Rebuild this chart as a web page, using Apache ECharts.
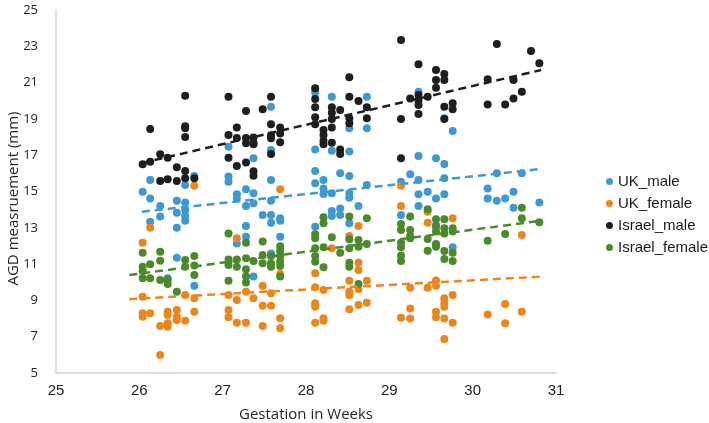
<!DOCTYPE html>
<html>
<head>
<meta charset="utf-8">
<script src="https://cdn.jsdelivr.net/npm/echarts@6/dist/echarts.min.js"></script>
<style>html,body{margin:0;padding:0;background:#fff}#c{width:709px;height:423px}</style>
</head>
<body>
<div id="c"></div>
<script>
const seriesNames = ['UK_male', 'UK_female', 'Israel_male', 'Israel_female'];
const xTicks = [25, 26, 27, 28, 29, 30, 31];
const yTicks = [5, 7, 9, 11, 13, 15, 17, 19, 21, 23, 25];

const ukMale = [
  [26.13,15.63],[26.04,14.99],[26.13,14.62],[26.55,15.36],[26.66,15.85],[26.45,14.49],[26.55,14.4],[26.25,14.2],
  [26.45,13.83],[26.55,13.98],[26.55,13.65],[26.55,13.39],[26.25,13.62],[26.13,13.34],[26.45,13.0],[26.45,11.35],
  [26.66,9.81],[26.34,10.22],
  [27.07,15.82],[27.07,15.54],[27.07,17.47],[27.17,14.85],[27.17,14.62],[27.28,15.12],[27.37,14.9],[27.28,14.2],
  [27.28,13.1],[27.28,12.51],[27.17,12.14],[27.37,10.31],
  [27.58,19.67],[27.37,16.83],[27.58,17.29],[27.58,15.63],[27.37,14.35],[27.58,14.49],[27.48,13.71],[27.58,13.71],
  [27.69,13.53],[27.69,13.39],[27.58,13.28],[27.69,12.51],[27.58,11.59],
  [28.11,20.45],[28.31,20.22],[28.73,20.22],[28.52,18.48],[28.73,18.48],[28.11,17.32],[28.11,16.13],[28.11,15.45],
  [28.21,15.63],[28.21,15.17],[28.21,14.86],[28.31,14.9],[28.41,16.0],[28.52,15.85],[28.52,14.9],[28.52,14.66],
  [28.73,15.36],[28.63,14.2],[28.31,17.25],[28.52,17.2],[28.11,13.06],[28.31,13.93],[28.41,14.07],[28.31,13.65],
  [28.41,13.71],[28.52,13.25],
  [29.35,20.5],[29.66,19.03],[29.76,18.33],[29.35,16.96],[29.56,16.83],[29.66,16.52],[29.25,15.95],[29.35,15.63],
  [29.14,15.54],[29.66,15.73],[29.35,14.85],[29.46,14.99],[29.56,14.62],[29.66,14.85],[29.35,14.2],[29.14,13.71],
  [29.56,13.15],[29.76,11.93],
  [30.18,15.17],[30.18,14.62],[30.29,16.0],[30.29,14.49],[30.39,14.62],[30.49,14.99],[30.49,14.11],[30.59,16.0],
  [30.8,14.4]
];

const ukFemale = [
  [26.66,15.32],[26.13,13.0],[26.04,12.18],[26.04,9.2],[26.55,9.3],[26.66,9.12],[26.04,8.29],[26.04,8.1],
  [26.13,8.29],[26.34,8.38],[26.34,8.2],[26.45,8.47],[26.45,8.1],[26.34,7.74],[26.34,7.55],[26.25,7.59],
  [26.45,7.92],[26.55,7.88],[26.66,8.38],[26.25,5.99],
  [27.17,12.42],[27.07,9.3],[27.17,9.02],[27.28,9.48],[27.37,9.12],[27.07,8.47],[27.07,8.07],[27.17,7.77],
  [27.28,7.77],
  [27.69,15.12],[27.69,11.45],[27.69,10.45],[27.48,9.81],[27.58,9.39],[27.48,8.71],[27.58,8.71],[27.48,7.59],
  [27.69,8.01],[27.69,7.46],
  [28.11,10.49],[28.11,9.72],[28.21,9.57],[28.11,8.84],[28.11,8.65],[28.21,8.01],[28.21,7.88],[28.11,7.77],
  [28.31,11.87],[28.63,13.1],[28.52,12.55],[28.63,11.08],[28.63,10.68],[28.52,10.08],[28.63,9.61],[28.73,10.08],
  [28.52,9.48],[28.52,9.3],[28.52,8.51],[28.63,8.75],[28.73,8.87],
  [29.14,15.32],[29.14,14.2],[29.46,13.89],[29.46,13.28],[29.76,13.53],[29.25,9.7],[29.46,9.7],[29.56,10.09],
  [29.56,9.81],[29.66,9.12],[29.66,8.87],[29.66,8.65],[29.76,9.3],[29.25,8.56],[29.14,8.05],[29.25,8.0],
  [29.56,8.38],[29.56,8.07],[29.66,8.0],[29.76,7.77],[29.66,6.87],
  [30.18,8.23],[30.39,8.8],[30.39,7.74],[30.59,8.38],[30.59,12.6]
];

const israelMale = [
  [26.55,20.28],[26.13,18.44],[26.55,18.6],[26.55,18.48],[26.55,18.0],[26.04,16.5],[26.13,16.64],[26.25,17.05],
  [26.34,16.86],[26.45,16.33],[26.55,16.13],[26.25,15.58],[26.34,15.67],[26.45,15.58],[26.55,15.73],[26.66,15.73],
  [27.07,20.22],[27.28,19.44],[27.07,18.11],[27.17,18.52],[27.17,17.95],[27.28,17.95],[27.37,17.97],[27.28,17.66],
  [27.37,17.69],[27.07,16.86],[27.17,16.4],[27.28,16.6],[27.37,16.12],[27.37,15.87],
  [27.48,19.53],[27.58,20.22],[27.58,18.7],[27.69,18.52],[27.69,18.2],[27.58,18.1],[27.58,17.93],[27.69,17.71],
  [27.58,17.07],[27.37,17.6],
  [28.11,20.69],[28.11,20.1],[28.11,19.64],[28.11,19.09],[28.11,18.7],[28.31,19.64],[28.31,19.34],[28.31,19.0],
  [28.31,18.52],[28.41,19.49],[28.21,18.39],[28.21,18.11],[28.52,21.29],[28.52,20.22],[28.63,19.99],[28.73,19.64],
  [28.73,19.03],[28.52,19.03],[28.52,18.76],[28.21,17.8],[28.21,17.6],[28.31,17.69],[28.41,17.32],[28.41,17.07],
  [29.14,23.35],[29.35,22.01],[29.56,21.69],[29.66,21.47],[29.56,21.14],[29.66,21.14],[29.56,20.72],[29.25,20.13],
  [29.35,20.32],[29.35,20.04],[29.35,19.77],[29.46,20.22],[29.35,19.27],[29.14,19.0],[29.66,19.67],[29.76,19.86],
  [29.76,19.53],[29.66,19.0],[29.14,16.83],
  [30.29,23.13],[30.7,22.74],[30.8,22.06],[30.18,21.18],[30.49,21.14],[30.59,20.5],[30.49,20.13],[30.18,19.8],
  [30.39,19.8]
];

const israelFemale = [
  [26.04,11.63],[26.25,11.68],[26.04,10.86],[26.04,10.62],[26.04,10.22],[26.13,10.99],[26.13,10.22],[26.25,11.19],
  [26.25,10.12],[26.34,10.12],[26.34,9.9],[26.45,9.48],[26.55,11.23],[26.55,10.86],[26.66,11.45],[26.66,10.92],
  [26.66,10.4],
  [27.07,12.69],[27.28,12.18],[27.07,11.26],[27.07,10.95],[27.17,11.26],[27.17,10.86],[27.28,11.32],[27.28,10.71],
  [27.28,10.31],[27.28,9.98],[27.37,11.17],[27.07,10.08],
  [27.48,12.24],[27.48,11.5],[27.48,11.04],[27.58,11.45],[27.58,11.04],[27.58,10.86],[27.69,11.99],[27.69,11.74],
  [27.69,11.45],[27.69,11.13],[27.69,10.9],[27.69,10.31],
  [28.11,12.65],[28.11,12.42],[28.11,11.87],[28.11,11.45],[28.11,11.13],[28.21,13.58],[28.21,13.25],[28.21,11.93],
  [28.21,10.82],[28.31,12.48],[28.41,11.63],[28.52,13.62],[28.52,12.37],[28.52,11.87],[28.52,11.08],[28.52,10.86],
  [28.63,12.33],[28.63,11.96],[28.73,13.53],[28.73,12.11],[28.63,9.9],
  [29.46,14.02],[29.25,13.62],[29.14,13.21],[29.14,12.88],[29.25,12.88],[29.25,12.55],[29.25,12.42],[29.14,12.18],
  [29.14,11.93],[29.14,11.47],[29.14,11.17],[29.46,12.38],[29.46,11.74],[29.56,12.11],[29.56,11.96],[29.56,13.47],
  [29.66,13.47],[29.56,13.06],[29.66,12.97],[29.56,12.79],[29.66,12.69],[29.76,12.97],[29.76,12.79],[29.66,11.72],
  [29.76,11.63],[29.66,11.28],[29.76,11.17],
  [30.18,12.29],[30.39,12.66],[30.59,14.11],[30.59,13.53],[30.8,13.31]
];

// Trend lines (start and end points)
const ukMaleTrend = [[26.03,13.89],[30.78,16.22]];
const ukFemaleTrend = [[25.88,9.07],[30.82,10.31]];
const israelMaleTrend = [[26.03,16.57],[30.82,21.69]];
const israelFemaleTrend = [[25.88,10.4],[30.82,13.39]];

const colors = ['#3f98d2', '#ea861c', '#1e1e1e', '#4a8a2b'];
const pointSets = [ukMale, ukFemale, israelMale, israelFemale];
const trendSets = [ukMaleTrend, ukFemaleTrend, israelMaleTrend, israelFemaleTrend];

const series = [];
pointSets.forEach((d, i) => {
  series.push({
    name: seriesNames[i], type: 'scatter', data: d, symbol: 'circle', symbolSize: 8,
    itemStyle: { color: colors[i], opacity: 1 }, z: 2
  });
});
trendSets.forEach((d, i) => {
  series.push({
    name: seriesNames[i] + ' trend', type: 'line', data: d, showSymbol: false, symbol: 'none',
    lineStyle: { color: colors[i], width: 2.5, type: [8, 5] }, z: 3, silent: true
  });
});

const chart = echarts.init(document.getElementById('c'), null, { renderer: 'canvas' });
chart.setOption({
  animation: false,
  backgroundColor: '#ffffff',
  grid: { left: 56, right: 153, top: 10, bottom: 50, containLabel: false, outerBoundsMode: 'none' },
  legend: {
    data: seriesNames.map(n => ({ name: n, icon: 'circle' })),
    orient: 'vertical', left: 601, top: 169,
    itemWidth: 7, itemHeight: 7, itemGap: 7,
    textStyle: { fontFamily: 'Liberation Sans', fontSize: 15, color: '#1a1a1a', lineHeight: 15 }
  },
  xAxis: {
    type: 'value', min: xTicks[0], max: xTicks[xTicks.length - 1], interval: 1,
    name: 'Gestation in Weeks', nameLocation: 'middle', nameGap: 34, nameMoveOverlap: false,
    nameTextStyle: { fontFamily: 'Open Sans', fontSize: 15, color: '#262626' },
    axisLine: { show: true, lineStyle: { color: '#d4d4d4', width: 1.5 } },
    axisTick: { show: false }, splitLine: { show: false },
    axisLabel: { fontFamily: 'Liberation Sans', fontSize: 15, color: '#222', margin: 10 }
  },
  yAxis: {
    type: 'value', min: yTicks[0], max: yTicks[yTicks.length - 1],
    name: 'AGD measruement (mm)', nameLocation: 'middle', nameGap: 35, nameRotate: 90, nameMoveOverlap: false,
    nameTextStyle: { fontFamily: 'Open Sans', fontSize: 15, color: '#262626', padding: [0, 14, 0, 0] },
    axisLine: { show: true, lineStyle: { color: '#d4d4d4', width: 1.5 } },
    axisTick: { show: false }, splitLine: { show: false },
    axisLabel: { fontFamily: 'Open Sans', fontSize: 13, color: '#222', margin: 18, customValues: yTicks }
  },
  series: series
});
</script>
</body>
</html>
